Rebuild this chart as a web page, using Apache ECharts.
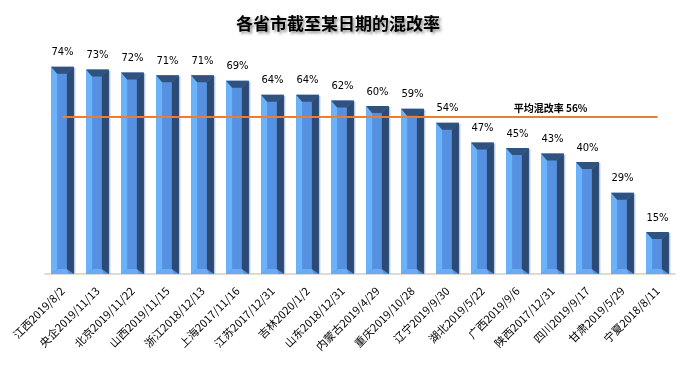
<!DOCTYPE html>
<html>
<head>
<meta charset="utf-8">
<script src="https://cdn.jsdelivr.net/npm/echarts@6/dist/echarts.min.js"></script>
<style>html,body{margin:0;padding:0;background:#fff}#c{width:690px;height:370px}</style>
</head>
<body>
<div id="c"></div>
<script>
const categories = ['江西2019/8/2','央企2019/11/13','北京2019/11/22','山西2019/11/15','浙江2018/12/13','上海2017/11/16','江苏2017/12/31','吉林2020/1/2','山东2018/12/31','内蒙古2019/4/29','重庆2019/10/28','辽宁2019/9/30','湖北2019/5/22','广西2019/9/6','陕西2017/12/31','四川2019/9/17','甘肃2019/5/29','宁夏2018/8/11'];
const values = [74,73,72,71,71,69,64,64,62,60,59,54,47,45,43,40,29,15];
const avgRate = 56;
const avgLabel = '平均混改率 56%';
const titleText = '各省市截至某日期的混改率';

const chart = echarts.init(document.getElementById('c'), null, {renderer:'canvas'});

function renderBar(params, api) {
  const idx = api.value(0);
  const val = api.value(1);
  const top = api.coord([idx, val]);
  const base = api.coord([idx, 0]);
  const w = api.size([1, 0])[0] * 0.65;
  const cx = top[0];
  const x0 = cx - w / 2, x1 = cx + w / 2;
  const yt = top[1], yb = base[1];
  const ls = 6, rs = 7, tb = 7, bb = 5;
  return {
    type: 'group',
    children: [
      {type:'rect', shape:{x:x1, y:yt+1, width:1.5, height:yb-yt-1}, style:{fill:'#b9c9dd'}},
      {type:'rect', shape:{x:x0, y:yt, width:w, height:yb-yt}, style:{fill:'#5690e0'}},
      {type:'polygon', shape:{points:[[x0,yt],[x0+ls,yt+tb],[x0+ls,yb-bb],[x0,yb]]}, style:{fill:'#6ab3fa'}},
      {type:'polygon', shape:{points:[[x1,yt],[x1,yb],[x1-rs,yb-bb],[x1-rs,yt+tb]]}, style:{fill:'#2c4a73'}},
      {type:'polygon', shape:{points:[[x0,yt],[x1,yt],[x1-rs,yt+tb],[x0+ls,yt+tb]]}, style:{fill:'#30527f'}},
      {type:'polygon', shape:{points:[[x0,yb],[x0+ls,yb-bb],[x1-rs,yb-bb],[x1-rs+2,yb]]}, style:{fill:'#6aabf4'}},
      {type:'text', style:{text: val + '%', x: cx, y: yt - 9, align:'center', verticalAlign:'bottom', fill:'#000', font:'10px "DejaVu Sans"'}}
    ]
  };
}

chart.setOption({
  animation: false,
  title: {
    text: titleText,
    left: 333, top: 10, textAlign: 'center',
    textStyle: {fontSize: 17, fontWeight: 'bold', color: '#000', fontFamily: '"Noto Sans CJK SC"',
      textShadowColor: 'rgba(0,0,0,0.45)', textShadowBlur: 3, textShadowOffsetX: 2, textShadowOffsetY: 2}
  },
  grid: {left: 45, right: 15, top: 50, bottom: 96},
  xAxis: {
    type: 'category', data: categories,
    axisLine: {lineStyle: {color: '#d0d0d0', width: 1.5}},
    axisTick: {show: false},
    axisLabel: {interval: 0, rotate: 45, fontSize: 11, color: '#000', margin: 15, fontFamily: '"Noto Sans CJK SC"'}
  },
  yAxis: {type: 'value', min: 0, max: 80, show: false, splitLine: {show: false}},
  series: [{
    type: 'custom',
    renderItem: renderBar,
    data: values.map((v, i) => [i, v]),
    encode: {x: 0, y: 1},
    z: 2,
    markLine: {
      silent: true,
      symbol: 'none',
      lineStyle: {color: '#ed7d31', width: 2, type: 'solid'},
      label: {show: true, formatter: avgLabel, position: 'insideEndTop', distance: [70, 4],
        color: '#000', fontWeight: 'bold', fontSize: 10, fontFamily: '"Noto Sans CJK SC"'},
      data: [[{coord: [0, avgRate]}, {coord: [categories.length - 1, avgRate]}]]
    }
  }]
});
</script>
</body>
</html>
